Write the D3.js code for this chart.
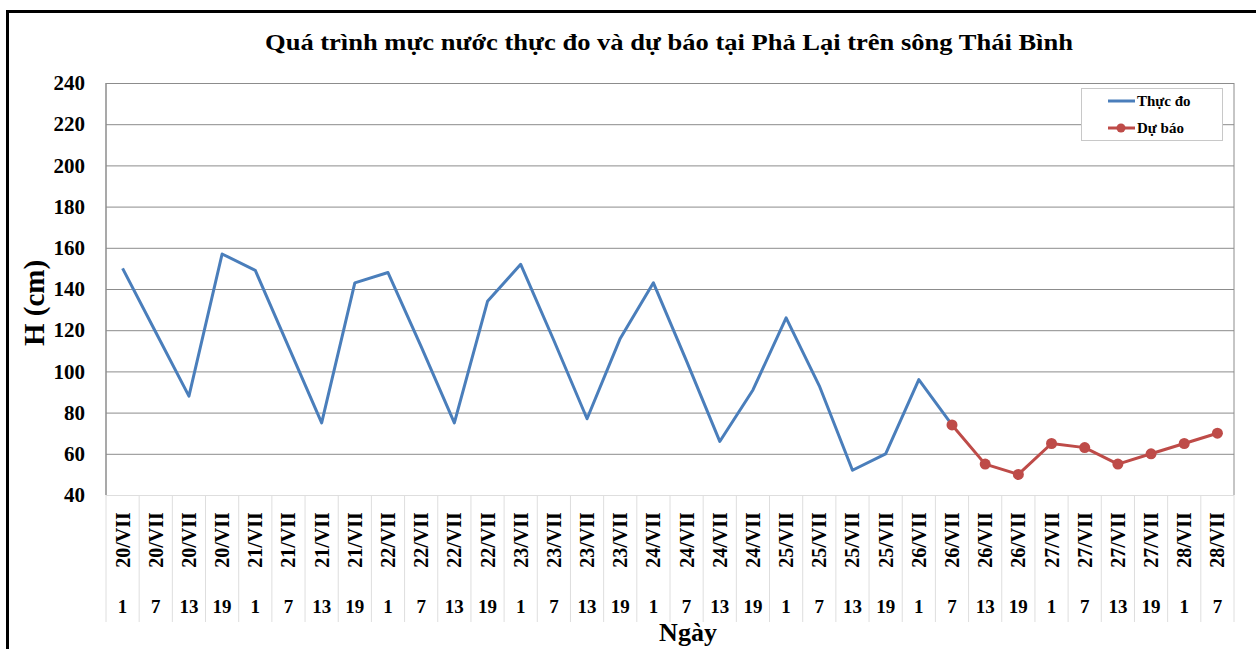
<!DOCTYPE html>
<html>
<head>
<meta charset="utf-8">
<script src="https://cdn.jsdelivr.net/npm/d3@7"></script>
<style>
  body { margin: 0; background: #fff; }
  text { font-family: "Liberation Serif", "Times New Roman", serif; font-weight: bold; fill: #000; }
</style>
</head>
<body>
<div id="chart"></div>
<script>
// chart data
var dates = ["20/VII", "20/VII", "20/VII", "20/VII", "21/VII", "21/VII", "21/VII", "21/VII",
    "22/VII", "22/VII", "22/VII", "22/VII", "23/VII", "23/VII", "23/VII", "23/VII",
    "24/VII", "24/VII", "24/VII", "24/VII", "25/VII", "25/VII", "25/VII", "25/VII",
    "26/VII", "26/VII", "26/VII", "26/VII", "27/VII", "27/VII", "27/VII", "27/VII",
    "28/VII", "28/VII"];
var hours = ["1", "7", "13", "19", "1", "7", "13", "19", "1", "7", "13", "19", "1", "7", "13", "19",
    "1", "7", "13", "19", "1", "7", "13", "19", "1", "7", "13", "19", "1", "7", "13", "19", "1", "7"];

// measured levels (Thực đo), from 20/VII 1h to 26/VII 7h
var measured = [150, 119, 88, 157, 149, 112, 75, 143, 148, 112, 75, 134, 152, 115, 77, 116,
    143, 105, 66, 91, 126, 93, 52, 60, 96, 74];
// forecast levels (Dự báo), from 26/VII 7h to 28/VII 7h
var forecastStart = 25;
var forecast = [74, 55, 50, 65, 63, 55, 60, 65, 70];

var yTicks = [40, 60, 80, 100, 120, 140, 160, 180, 200, 220, 240];

// svg dimensions
var svgWidth = 1256;
var svgHeight = 649;

// plot area
var plot = { left: 106, right: 1234, top: 83, bottom: 495 };

var svg = d3.select("#chart").append("svg")
    .attr("width", svgWidth)
    .attr("height", svgHeight);

// outer frame
svg.append("rect")
    .attr("x", 7.5).attr("y", 11.5)
    .attr("width", 1270).attr("height", 660)
    .attr("fill", "none")
    .attr("stroke", "#000")
    .attr("stroke-width", 3);

// title
svg.append("text")
    .attr("x", 265).attr("y", 50)
    .attr("font-size", 24)
    .attr("textLength", 808)
    .attr("lengthAdjust", "spacingAndGlyphs")
    .text("Quá trình mực nước thực đo và dự báo tại Phả Lại trên sông Thái Bình");

// scales
var xScale = d3.scaleBand()
    .domain(d3.range(dates.length))
    .range([plot.left, plot.right]);

var yScale = d3.scaleLinear()
    .domain([40, 240])
    .range([plot.bottom, plot.top]);

var xMid = i => xScale(i) + xScale.bandwidth() / 2;

// gridlines
svg.append("g")
    .attr("transform", `translate(${plot.left},0)`)
    .call(d3.axisLeft(yScale).tickValues(yTicks).tickSize(-(plot.right - plot.left)).tickFormat(""))
    .call(g => g.select(".domain").remove())
    .call(g => g.selectAll(".tick line").attr("stroke", "#8c8c8c"));

// plot area border (left + right)
svg.append("line")
    .attr("x1", plot.left).attr("x2", plot.left)
    .attr("y1", plot.top).attr("y2", plot.bottom)
    .attr("stroke", "#8c8c8c").attr("stroke-width", 1.5);
svg.append("line")
    .attr("x1", plot.right).attr("x2", plot.right)
    .attr("y1", plot.top).attr("y2", plot.bottom)
    .attr("stroke", "#8c8c8c");

// y axis labels
svg.append("g")
    .attr("transform", `translate(${plot.left},0)`)
    .call(d3.axisLeft(yScale).tickValues(yTicks).tickSize(0).tickPadding(21))
    .call(g => g.select(".domain").remove())
    .call(g => g.selectAll("text")
        .attr("font-size", 21)
        .attr("font-family", "Liberation Serif")
        .attr("font-weight", "bold")
        .attr("fill", "#000"));

// category table below the plot
var tableBottom = 622;
svg.append("line")
    .attr("x1", plot.left).attr("x2", plot.right)
    .attr("y1", plot.bottom + 0.5).attr("y2", plot.bottom + 0.5)
    .attr("stroke", "#dedede");
svg.append("g").selectAll("line")
    .data(d3.range(dates.length + 1))
    .join("line")
    .attr("x1", i => plot.left + i * xScale.step())
    .attr("x2", i => plot.left + i * xScale.step())
    .attr("y1", plot.bottom)
    .attr("y2", tableBottom)
    .attr("stroke", "#dedede");

// date labels (rotated)
svg.append("g").selectAll("text")
    .data(d3.range(dates.length))
    .join("text")
    .attr("transform", i => `translate(${xMid(i) + 7},540) rotate(-90)`)
    .attr("text-anchor", "middle")
    .attr("font-size", 20)
    .text(i => dates[i]);

// hour labels
svg.append("g").selectAll("text")
    .data(d3.range(hours.length))
    .join("text")
    .attr("x", i => xMid(i))
    .attr("y", 613)
    .attr("text-anchor", "middle")
    .attr("font-size", 19)
    .text(i => hours[i]);

// axis titles
svg.append("text")
    .attr("transform", "translate(44,303) rotate(-90)")
    .attr("text-anchor", "middle")
    .attr("font-size", 29)
    .text("H (cm)");

svg.append("text")
    .attr("x", 688).attr("y", 641)
    .attr("text-anchor", "middle")
    .attr("font-size", 26)
    .text("Ngày");

// lines
var line = d3.line()
    .x(d => xMid(d.i))
    .y(d => yScale(d.v));

var measuredPts = measured.map((v, i) => ({ i: i, v: v }));
var forecastPts = forecast.map((v, k) => ({ i: forecastStart + k, v: v }));

svg.append("path")
    .datum(measuredPts)
    .attr("d", line)
    .attr("fill", "none")
    .attr("stroke", "#4a7ebb")
    .attr("stroke-width", 3)
    .attr("stroke-linejoin", "round");

svg.append("path")
    .datum(forecastPts)
    .attr("d", line)
    .attr("fill", "none")
    .attr("stroke", "#be4b48")
    .attr("stroke-width", 3)
    .attr("stroke-linejoin", "round");

svg.append("g").selectAll("circle")
    .data(forecastPts)
    .join("circle")
    .attr("cx", d => xMid(d.i))
    .attr("cy", d => yScale(d.v))
    .attr("r", 5.5)
    .attr("fill", "#be4b48");

// legend
var legend = svg.append("g");
legend.append("rect")
    .attr("x", 1081.5).attr("y", 88.5)
    .attr("width", 141).attr("height", 52)
    .attr("fill", "#fff")
    .attr("stroke", "#c8c8c8");

var legendItems = [
    { name: "Thực đo", color: "#4a7ebb", marker: false, y: 101 },
    { name: "Dự báo", color: "#be4b48", marker: true, y: 128 }
];
legendItems.forEach(function (item) {
    legend.append("line")
        .attr("x1", 1108).attr("x2", 1135)
        .attr("y1", item.y).attr("y2", item.y)
        .attr("stroke", item.color)
        .attr("stroke-width", 3);
    if (item.marker) {
        legend.append("circle")
            .attr("cx", 1121).attr("cy", item.y)
            .attr("r", 4.5)
            .attr("fill", item.color);
    }
    legend.append("text")
        .attr("x", 1137).attr("y", item.y + 5)
        .attr("font-size", 15)
        .text(item.name);
});
</script>
</body>
</html>
